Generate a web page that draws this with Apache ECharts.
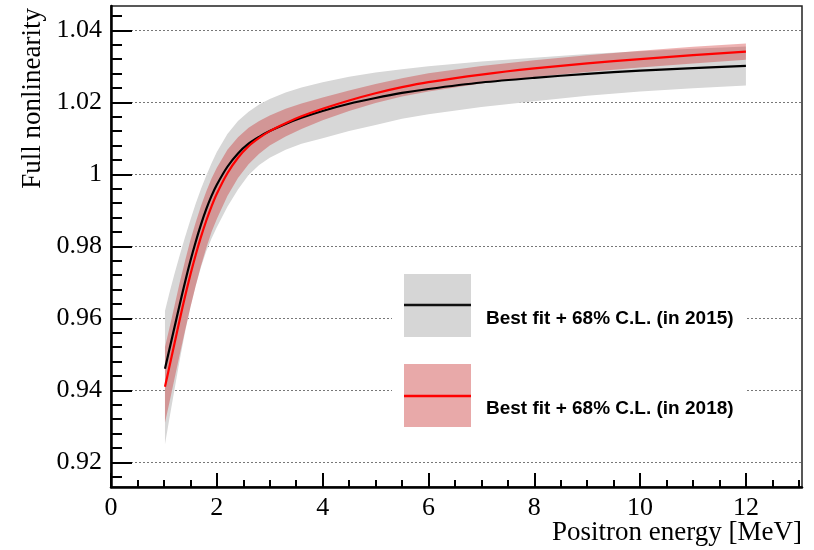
<!DOCTYPE html>
<html><head><meta charset="utf-8">
<script src="https://cdn.jsdelivr.net/npm/echarts@6/dist/echarts.min.js"></script>
<style>html,body{margin:0;padding:0;background:#fff}#c{width:814px;height:550px}</style>
</head><body><div id="c"></div>
<script>
// ---- data ----
const energy   = [1.02, 1.1, 1.2, 1.3, 1.4, 1.5, 1.6, 1.7, 1.8, 1.9, 2.0, 2.2, 2.4, 2.6, 2.8, 3.0, 3.3, 3.6, 4.0, 4.5, 5.0, 5.5, 6.0, 7.0, 8.0, 9.0, 10.0, 11.0, 12.0];
const fit2015  = [0.9460, 0.9511, 0.9575, 0.9639, 0.9701, 0.9759, 0.9812, 0.9860, 0.9903, 0.9940, 0.9971, 1.0021, 1.0058, 1.0085, 1.0104, 1.0120, 1.0140, 1.0157, 1.0176, 1.0196, 1.0212, 1.0226, 1.0237, 1.0255, 1.0268, 1.0279, 1.0288, 1.0295, 1.0301];
const low2015  = [0.9250, 0.9318, 0.9402, 0.9485, 0.9562, 0.9630, 0.9690, 0.9742, 0.9786, 0.9822, 0.9853, 0.9910, 0.9958, 0.9998, 1.0026, 1.0046, 1.0068, 1.0085, 1.0100, 1.0120, 1.0137, 1.0154, 1.0167, 1.0187, 1.0203, 1.0218, 1.0230, 1.0239, 1.0247];
const high2015 = [0.9620, 0.9668, 0.9724, 0.9776, 0.9826, 0.9873, 0.9918, 0.9959, 0.9996, 1.0031, 1.0062, 1.0112, 1.0148, 1.0174, 1.0194, 1.0209, 1.0227, 1.0241, 1.0256, 1.0271, 1.0283, 1.0292, 1.0300, 1.0313, 1.0324, 1.0334, 1.0342, 1.0349, 1.0355];
const fit2018  = [0.9410, 0.9463, 0.9530, 0.9597, 0.9661, 0.9721, 0.9776, 0.9826, 0.9871, 0.9911, 0.9946, 1.0003, 1.0046, 1.0078, 1.0101, 1.0120, 1.0142, 1.0161, 1.0182, 1.0205, 1.0225, 1.0242, 1.0256, 1.0277, 1.0294, 1.0308, 1.0320, 1.0331, 1.0341];
const low2018  = [0.9310, 0.9363, 0.9432, 0.9500, 0.9566, 0.9630, 0.9690, 0.9745, 0.9795, 0.9840, 0.9876, 0.9940, 0.9990, 1.0028, 1.0057, 1.0080, 1.0105, 1.0126, 1.0150, 1.0176, 1.0198, 1.0216, 1.0230, 1.0252, 1.0270, 1.0284, 1.0297, 1.0308, 1.0318];
const high2018 = [0.9520, 0.9570, 0.9635, 0.9700, 0.9760, 0.9817, 0.9866, 0.9912, 0.9952, 0.9988, 1.0018, 1.0068, 1.0103, 1.0129, 1.0148, 1.0163, 1.0182, 1.0197, 1.0213, 1.0233, 1.0251, 1.0267, 1.0281, 1.0301, 1.0317, 1.0331, 1.0343, 1.0354, 1.0363];

const xMajorTicks = [0, 2, 4, 6, 8, 10, 12];
const xMinorTicks = [0.5, 1, 1.5, 2, 2.5, 3, 3.5, 4, 4.5, 5, 5.5, 6, 6.5, 7, 7.5, 8, 8.5, 9, 9.5, 10, 10.5, 11, 11.5, 12, 12.5, 13];
const yMajorTicks = [0.92, 0.94, 0.96, 0.98, 1, 1.02, 1.04];
const yMinorTicks = [0.916, 0.92, 0.924, 0.928, 0.932, 0.936, 0.94, 0.944, 0.948, 0.952, 0.956, 0.96, 0.964, 0.968, 0.972, 0.976, 0.98, 0.984, 0.988, 0.992, 0.996, 1, 1.004, 1.008, 1.012, 1.016, 1.02, 1.024, 1.028, 1.032, 1.036, 1.04, 1.044];

const xTitle = 'Positron energy [MeV]';
const yTitle = 'Full nonlinearity';
const legendLabels = ['Best fit + 68% C.L. (in 2015)', 'Best fit + 68% C.L. (in 2018)'];

// ---- styling ----
const SERIF = '"Liberation Serif", "DejaVu Serif", serif';
const SANS = '"Liberation Sans", Arial, sans-serif';
const GRAY_BAND = '#d7d7d7';
const RED_BAND = 'rgba(200,0,0,0.30)';
const X_MIN = 0, X_MAX = 13.06, Y_MIN = 0.91314, Y_MAX = 1.04675;

function pairs(ys) { return energy.map((x, i) => [x, ys[i]]); }

function band(name, lo, hi, color) {
  return {
    type: 'custom', name: name, silent: true, xAxisIndex: 0, yAxisIndex: 0,
    data: [[energy[0], lo[0]]],
    renderItem: function (params, api) {
      const pts = [];
      for (let i = 0; i < energy.length; i++) pts.push(api.coord([energy[i], hi[i]]));
      for (let i = energy.length - 1; i >= 0; i--) pts.push(api.coord([energy[i], lo[i]]));
      return { type: 'polygon', shape: { points: pts }, style: { fill: color, stroke: null } };
    }
  };
}

const chart = echarts.init(document.getElementById('c'), null, { renderer: 'canvas' });
chart.setOption({
  animation: false,
  backgroundColor: '#fff',
  grid: { left: 111, right: 12, top: 6, bottom: 63, show: true, borderColor: '#222', borderWidth: 1.5, backgroundColor: 'transparent' },
  xAxis: [
    {
      type: 'value', min: X_MIN, max: X_MAX, position: 'bottom',
      axisLine: { show: true, onZero: false, lineStyle: { color: '#000', width: 2.5 } },
      axisTick: { show: true, inside: true, length: 14, customValues: xMajorTicks, lineStyle: { color: '#000', width: 2 } },
      axisLabel: { customValues: xMajorTicks, margin: 8, color: '#000', fontFamily: SERIF, fontSize: 26 },
      splitLine: { show: false }
    },
    {
      type: 'value', min: X_MIN, max: X_MAX, position: 'bottom', offset: 0,
      axisLine: { show: false },
      axisTick: { show: true, inside: true, length: 7, customValues: xMinorTicks, lineStyle: { color: '#000', width: 2 } },
      axisLabel: { show: false },
      splitLine: { show: false }
    }
  ],
  yAxis: [
    {
      type: 'value', min: Y_MIN, max: Y_MAX, position: 'left',
      axisLine: { show: true, onZero: false, lineStyle: { color: '#000', width: 2.5 } },
      axisTick: { show: true, inside: true, length: 21, customValues: yMajorTicks, lineStyle: { color: '#000', width: 2 } },
      axisLabel: { customValues: yMajorTicks, margin: 9, color: '#000', fontFamily: SERIF, fontSize: 26 },
      splitLine: { show: true, lineStyle: { color: '#777', width: 1, type: [2, 2] } }
    },
    {
      type: 'value', min: Y_MIN, max: Y_MAX, position: 'left', offset: 0,
      axisLine: { show: false },
      axisTick: { show: true, inside: true, length: 11, customValues: yMinorTicks, lineStyle: { color: '#000', width: 2 } },
      axisLabel: { show: false },
      splitLine: { show: false }
    }
  ],
  series: [
    band('68% C.L. (in 2015)', low2015, high2015, GRAY_BAND),
    band('68% C.L. (in 2018)', low2018, high2018, RED_BAND),
    { type: 'line', name: 'Best fit (in 2015)', data: pairs(fit2015), showSymbol: false, smooth: 0.3,
      lineStyle: { color: '#000', width: 2.2 }, silent: true },
    { type: 'line', name: 'Best fit (in 2018)', data: pairs(fit2018), showSymbol: false, smooth: 0.3,
      lineStyle: { color: '#ff0000', width: 2.2 }, silent: true }
  ],
  graphic: [
    { type: 'rect', silent: true, z: 50, shape: { x: 392, y: 262, width: 353, height: 176 }, style: { fill: '#fff' } },
    { type: 'rect', silent: true, z: 51, shape: { x: 404, y: 274, width: 67, height: 63 }, style: { fill: '#d6d6d6' } },
    { type: 'line', silent: true, z: 52, shape: { x1: 404, y1: 305, x2: 471, y2: 305 }, style: { stroke: '#111', lineWidth: 2.5 } },
    { type: 'text', silent: true, z: 52, x: 486, y: 319, style: { text: legendLabels[0], font: 'bold 19px ' + SANS, fill: '#000', textAlign: 'left', textVerticalAlign: 'middle' } },
    { type: 'rect', silent: true, z: 51, shape: { x: 404, y: 364, width: 67, height: 63 }, style: { fill: '#e8a9a9' } },
    { type: 'line', silent: true, z: 52, shape: { x1: 404, y1: 396, x2: 471, y2: 396 }, style: { stroke: '#ff0000', lineWidth: 2.5 } },
    { type: 'text', silent: true, z: 52, x: 486, y: 409, style: { text: legendLabels[1], font: 'bold 19px ' + SANS, fill: '#000', textAlign: 'left', textVerticalAlign: 'middle' } },
    { type: 'text', silent: true, z: 52, x: 802, y: 533, style: { text: xTitle, font: '27px ' + SERIF, fill: '#000', textAlign: 'right', textVerticalAlign: 'middle' } },
    { type: 'text', silent: true, z: 52, x: 33, y: 8, rotation: Math.PI / 2, style: { text: yTitle, font: '27px ' + SERIF, fill: '#000', textAlign: 'right', textVerticalAlign: 'middle' } }
  ]
});
</script>
</body></html>
